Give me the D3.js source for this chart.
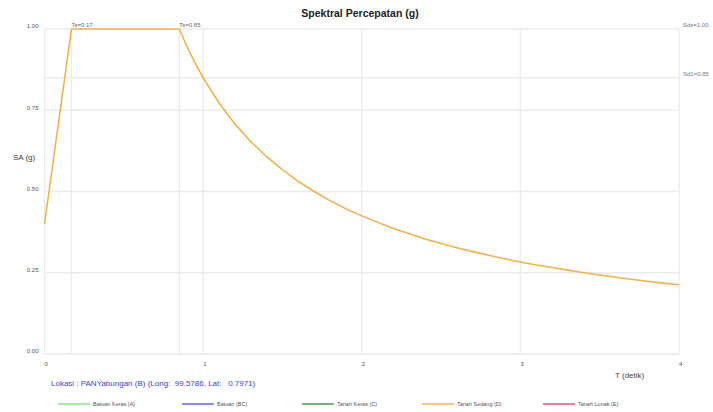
<!DOCTYPE html>
<html>
<head>
<meta charset="utf-8">
<script src="https://cdn.jsdelivr.net/npm/d3@7"></script>
<style>
  html, body { margin: 0; padding: 0; background: #fff; }
  svg { display: block; font-family: "Liberation Sans", Arial, sans-serif; }
  .keep-spaces { white-space: pre; }
</style>
</head>
<body>
<svg id="chart" width="713" height="412"></svg>
<script>
// Design response spectrum, site class D (Tanah Sedang)
const periodT = [0, 0.17, 0.85, 0.9, 0.95, 1.0, 1.1, 1.2, 1.3, 1.4, 1.5, 1.6, 1.7, 1.8, 1.9,
  2.0, 2.1, 2.2, 2.3, 2.4, 2.5, 2.6, 2.7, 2.8, 2.9, 3.0, 3.1, 3.2, 3.3, 3.4, 3.5, 3.6,
  3.7, 3.8, 3.9, 4.0];
const spectrumSA = [0.40, 1.00, 1.00, 0.944, 0.895, 0.850, 0.773, 0.708, 0.654, 0.607, 0.567,
  0.531, 0.500, 0.472, 0.447, 0.425, 0.405, 0.386, 0.370, 0.354, 0.340, 0.327, 0.315,
  0.304, 0.293, 0.283, 0.274, 0.266, 0.258, 0.250, 0.243, 0.236, 0.230, 0.224, 0.218, 0.213];

const xTicks = [0, 1, 2, 3, 4];
const yTicks = [0, 0.25, 0.5, 0.75, 1.0];
const periodMarks = [0.17, 0.85];
const periodLabels = ["Ts=0.17", "Ts=0.85"];
const levelMarks = [1.00, 0.85];
const levelLabels = ["Sds=1.00", "Sd1=0.85"];

const legendNames = ["Batuan Keras (A)", "Batuan (BC)", "Tanah Keras (C)", "Tanah Sedang (D)", "Tanah Lunak (E)"];
const legendColors = ["#7de07d", "#5a5ae6", "#3f8f4f", "#f5b04c", "#dc4a6a"];

const titleText = "Spektral Percepatan (g)";
const locationText = "Lokasi : PANYabungan (B) (Long:  99.5786, Lat:   0.7971)";

const svg = d3.select("#chart");
const plotL = 44.5, plotR = 679, plotT = 29, plotB = 354;

const x = d3.scaleLinear().domain([0, 4]).range([plotL, plotR]);
const y = d3.scaleLinear().domain([0, 1]).range([plotB, plotT]);

const grid = svg.append("g").attr("stroke", "#ebebeb").attr("stroke-width", 1.3);

// horizontal grid at ticks and at Sd1
yTicks.concat([0.85]).forEach(v => {
  grid.append("line").attr("x1", plotL).attr("x2", plotR).attr("y1", y(v)).attr("y2", y(v));
});
// vertical grid at integer periods and at the corner periods
xTicks.concat(periodMarks).forEach(v => {
  grid.append("line").attr("x1", x(v)).attr("x2", x(v)).attr("y1", plotT).attr("y2", plotB);
});

// axes
const yAxis = svg.append("g").attr("transform", `translate(${plotL - 6},0)`)
  .call(d3.axisLeft(y).tickValues(yTicks).tickFormat(d3.format(".2f")).tickSize(0));
yAxis.select(".domain").remove();
yAxis.selectAll("text").attr("font-size", 6).attr("fill", "#555").attr("dy", "-0.2em").attr("x", 0);

const xAxis = svg.append("g").attr("transform", `translate(0,${plotB + 5})`)
  .call(d3.axisBottom(x).tickValues(xTicks).tickFormat(d3.format("d")).tickSize(0));
xAxis.select(".domain").remove();
xAxis.selectAll("text").attr("font-size", 6).attr("fill", "#555").attr("dx", "0.2em");

// corner period labels
svg.append("g").selectAll("text").data(periodMarks).join("text")
  .attr("x", d => x(d)).attr("y", plotT - 2)
  .attr("font-size", 6).attr("fill", "#666")
  .text((d, i) => periodLabels[i]);

// level labels on the right
svg.append("g").selectAll("text").data(levelMarks).join("text")
  .attr("x", plotR + 4).attr("y", d => y(d) - 2)
  .attr("font-size", 6).attr("fill", "#777")
  .text((d, i) => levelLabels[i]);

// spectrum curve
const pts = periodT.map((t, i) => [t, spectrumSA[i]]);
svg.append("path")
  .datum(pts)
  .attr("fill", "none")
  .attr("stroke", legendColors[3])
  .attr("stroke-width", 1.6)
  .attr("stroke-linejoin", "round")
  .attr("d", d3.line().x(d => x(d[0])).y(d => y(d[1])));

// titles
svg.append("text").attr("x", 360).attr("y", 17).attr("text-anchor", "middle")
  .attr("font-size", 10.5).attr("font-weight", "bold").attr("fill", "#222").text(titleText);
svg.append("text").attr("x", 13).attr("y", 160).attr("font-size", 8).attr("fill", "#444").text("SA (g)");
svg.append("text").attr("x", 615).attr("y", 378).attr("font-size", 8).attr("fill", "#444").text("T (detik)");
svg.append("text").attr("class", "keep-spaces").attr("x", 51).attr("y", 386)
  .attr("font-size", 8).attr("fill", "#4040d8").text(locationText);

// legend
const legendX = [58, 182, 302, 422, 543];
const lg = svg.append("g").selectAll("g").data(legendNames).join("g")
  .attr("transform", (d, i) => `translate(${legendX[i]},404)`);
lg.append("line").attr("x1", 0).attr("x2", 32).attr("y1", 0).attr("y2", 0)
  .attr("stroke", (d, i) => legendColors[i]).attr("stroke-width", 1.4);
lg.append("text").attr("x", 35).attr("y", 2).attr("font-size", 5.5).attr("fill", "#555").text(d => d);
</script>
</body>
</html>
